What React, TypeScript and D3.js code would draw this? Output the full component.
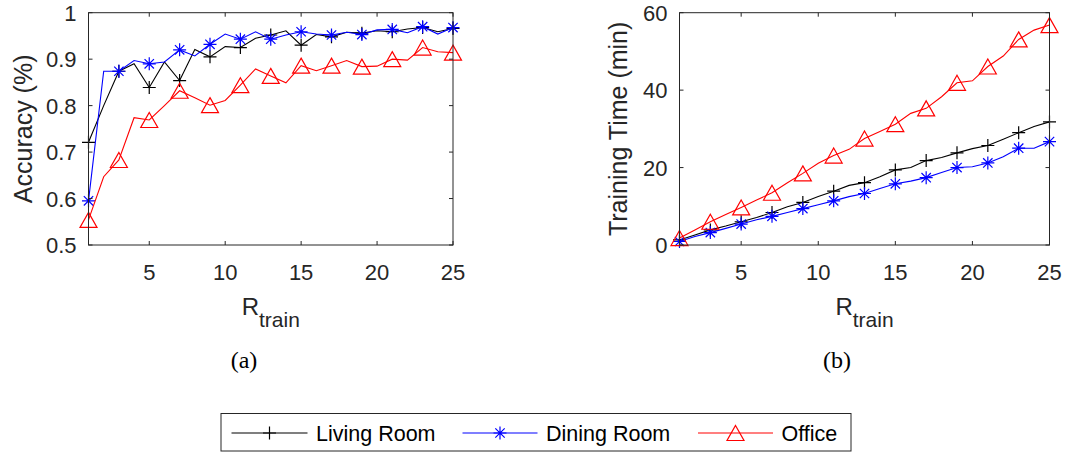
import React from "react";
import * as d3 from "d3";

const rTrain = d3.range(1, 26);
const seriesNames = ["Living Room", "Dining Room", "Office"];
const seriesColors = ["#000000", "#0000ff", "#ff0000"];
const seriesMarkers = ["plus", "star", "triangle"];

const accLiving = [0.721, 0.8, 0.874, 0.89, 0.839, 0.894, 0.854, 0.921, 0.905, 0.927, 0.925, 0.945, 0.952, 0.961, 0.93, 0.953, 0.948, 0.958, 0.956, 0.961, 0.959, 0.965, 0.968, 0.959, 0.966];
const accDining = [0.595, 0.874, 0.874, 0.897, 0.89, 0.894, 0.92, 0.907, 0.932, 0.954, 0.943, 0.959, 0.943, 0.952, 0.959, 0.954, 0.952, 0.958, 0.953, 0.963, 0.964, 0.957, 0.97, 0.954, 0.968];
const accOffice = [0.554, 0.647, 0.683, 0.774, 0.769, 0.8, 0.832, 0.817, 0.801, 0.811, 0.844, 0.879, 0.864, 0.849, 0.886, 0.875, 0.886, 0.897, 0.884, 0.885, 0.9, 0.898, 0.925, 0.916, 0.914];

const timeLiving = [1.3, 2.6, 3.9, 4.9, 6.0, 7.1, 8.4, 9.9, 11.0, 12.5, 13.9, 15.4, 16.1, 17.6, 19.4, 20.0, 21.8, 22.6, 23.8, 24.9, 25.7, 27.3, 29.0, 30.6, 31.8];
const timeDining = [0.9, 2.2, 3.2, 4.3, 5.4, 6.5, 7.4, 8.4, 9.4, 10.4, 11.4, 12.5, 13.3, 14.6, 15.8, 16.5, 17.4, 18.7, 20.0, 20.2, 21.2, 22.8, 25.0, 25.0, 26.7];
const timeOffice = [1.8, 3.9, 6.0, 7.9, 9.7, 11.6, 13.5, 16.1, 18.5, 21.1, 23.1, 24.7, 27.5, 29.3, 31.2, 34.0, 35.3, 38.3, 41.9, 42.4, 46.1, 48.8, 53.1, 55.5, 56.8];

const xTicks = [5, 10, 15, 20, 25];
const accTicks = [0.5, 0.6, 0.7, 0.8, 0.9, 1];
const accTickLabels = ["0.5", "0.6", "0.7", "0.8", "0.9", "1"];
const timeTicks = [0, 20, 40, 60];
const timeTickLabels = ["0", "20", "40", "60"];

const AX = "#262626";
const SANS = "'Liberation Sans', Arial, Helvetica, sans-serif";
const SERIF = "'Liberation Serif', 'DejaVu Serif', serif";

function Marker({ type, x, y, color }: { type: string; x: number; y: number; color: string }) {
  if (type === "plus") {
    const s = 6.5;
    return <path d={`M${x - s},${y}H${x + s}M${x},${y - s}V${y + s}`} stroke={color} strokeWidth={1.2} fill="none" />;
  }
  if (type === "star") {
    const s = 6.5;
    const d = s * 0.72;
    return (
      <path
        d={`M${x - s},${y}H${x + s}M${x},${y - s}V${y + s}M${x - d},${y - d}L${x + d},${y + d}M${x - d},${y + d}L${x + d},${y - d}`}
        stroke={color}
        strokeWidth={1.2}
        fill="none"
      />
    );
  }
  const w = 8.5;
  const h = 7.5;
  return <path d={`M${x},${y - h}L${x + w},${y + h}L${x - w},${y + h}Z`} stroke={color} strokeWidth={1.2} fill="none" />;
}

function Panel({
  left, right, top, bottom, yDomain, yTicks, yTickLabels, data, yLabel, yLabelX, caption, captionX,
}: {
  left: number; right: number; top: number; bottom: number; yDomain: [number, number];
  yTicks: number[]; yTickLabels: string[]; data: number[][]; yLabel: string; yLabelX: number; caption: string; captionX: number;
}) {
  const x = d3.scaleLinear().domain([1, 25]).range([left, right]);
  const y = d3.scaleLinear().domain(yDomain).range([bottom, top]);
  const line = d3.line<number>().x((_, i) => x(rTrain[i])).y((v) => y(v));
  const tl = 4;
  const cx = (left + right) / 2;
  return (
    <g>
      {data.map((vals, si) => (
        <g key={si}>
          <path d={line(vals) || ""} fill="none" stroke={seriesColors[si]} strokeWidth={1.1} />
          {vals.map((v, i) =>
            rTrain[i] % 2 === 1 ? (
              <Marker key={i} type={seriesMarkers[si]} x={x(rTrain[i])} y={y(v)} color={seriesColors[si]} />
            ) : null
          )}
        </g>
      ))}
      <rect x={left} y={top} width={right - left} height={bottom - top} fill="none" stroke={AX} strokeWidth={1} />
      {xTicks.map((t) => (
        <g key={t}>
          <line x1={x(t)} x2={x(t)} y1={bottom} y2={bottom - tl} stroke={AX} />
          <line x1={x(t)} x2={x(t)} y1={top} y2={top + tl} stroke={AX} />
          <text x={x(t)} y={280} fontFamily={SANS} fontSize={22} fill={AX} textAnchor="middle">
            {t}
          </text>
        </g>
      ))}
      {yTicks.map((t, i) => (
        <g key={t}>
          <line x1={left} x2={left + tl} y1={y(t)} y2={y(t)} stroke={AX} />
          <line x1={right} x2={right - tl} y1={y(t)} y2={y(t)} stroke={AX} />
          <text x={left - 12} y={y(t) + 8} fontFamily={SANS} fontSize={22} fill={AX} textAnchor="end">
            {yTickLabels[i]}
          </text>
        </g>
      ))}
      <text
        transform={`translate(${yLabelX},${(top + bottom) / 2}) rotate(-90)`}
        fontFamily={SANS}
        fontSize={25}
        fill={AX}
        textAnchor="middle"
        dominantBaseline="central"
      >
        {yLabel}
      </text>
      <text x={cx} y={315} fontFamily={SANS} fontSize={24} fill={AX} textAnchor="middle">
        R<tspan fontSize={21} dy={11.5}>train</tspan>
      </text>
      <text x={captionX} y={368} fontFamily={SERIF} fontSize={24} fill="#000" textAnchor="middle">
        {caption}
      </text>
    </g>
  );
}

export default function App() {
  const legendItems = [
    { x1: 231.5, x2: 307.5, tx: 316 },
    { x1: 462.5, x2: 537.5, tx: 546 },
    { x1: 698, x2: 773, tx: 781.5 },
  ];
  const ly = 433;
  return (
    <svg width={1067} height={452} style={{ position: "absolute", left: 0, top: 0, background: "#fff" }}>
      <rect width={1067} height={452} fill="#fff" />
      <Panel
        left={88.5}
        right={453}
        top={12.7}
        bottom={245}
        yDomain={[0.5, 1]}
        yTicks={accTicks}
        yTickLabels={accTickLabels}
        data={[accLiving, accDining, accOffice]}
        yLabel="Accuracy (%)"
        yLabelX={23}
        caption="(a)"
        captionX={244}
      />
      <Panel
        left={679.5}
        right={1049.5}
        top={12.7}
        bottom={245}
        yDomain={[0, 60]}
        yTicks={timeTicks}
        yTickLabels={timeTickLabels}
        data={[timeLiving, timeDining, timeOffice]}
        yLabel="Training Time (min)"
        yLabelX={618}
        caption="(b)"
        captionX={837}
      />
      <rect x={221} y={413.5} width={630} height={37.5} fill="#fff" stroke={AX} strokeWidth={1} />
      {legendItems.map((it, i) => (
        <g key={i}>
          <line x1={it.x1} x2={it.x2} y1={ly} y2={ly} stroke={seriesColors[i]} strokeWidth={1.1} />
          <Marker type={seriesMarkers[i]} x={(it.x1 + it.x2) / 2} y={ly} color={seriesColors[i]} />
          <text x={it.tx} y={ly + 8} fontFamily={SANS} fontSize={21.5} fill="#000">
            {seriesNames[i]}
          </text>
        </g>
      ))}
    </svg>
  );
}
